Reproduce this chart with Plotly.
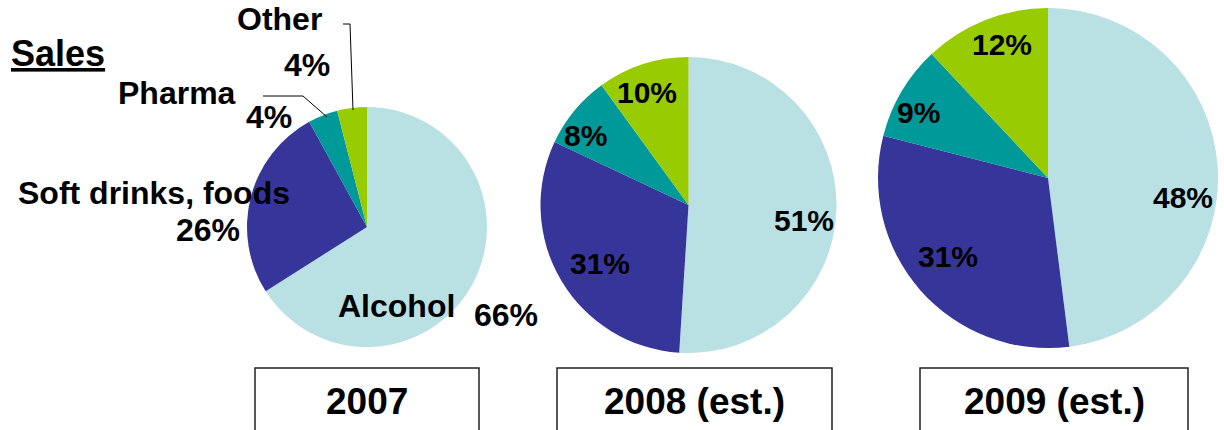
import plotly.graph_objects as go

W, H = 1224, 430

# ---------------- data ----------------
categories = ["Alcohol", "Soft drinks, foods", "Pharma", "Other"]
years = ["2007", "2008 (est.)", "2009 (est.)"]
sales_2007 = [66, 26, 4, 4]
sales_2008 = [51, 31, 8, 10]
sales_2009 = [48, 31, 9, 12]
title_text = "Sales"

# ---------------- styles / layout ----------------
colors = ["#B9E0E3", "#36359A", "#009999", "#99CC00"]
FONT = "Liberation Sans, Arial, sans-serif"

pie_geom = [  # centre x, centre y (px from top), radius (px)
    dict(cx=367, cy=227, r=120),
    dict(cx=688.5, cy=205, r=148),
    dict(cx=1048, cy=178, r=170),
]
series = [sales_2007, sales_2008, sales_2009]

# 2007 pie: name and percent label positions (px)
p1_name_pos = [(396, 306), (154, 193), (177, 93), (279.5, 18.5)]
p1_pct_pos = [(506, 315), (208, 230), (269, 117), (307, 65)]
# 2008 / 2009 pies: percent label positions inside the slices (px)
inside_pct_pos = [
    [(804, 221), (600, 263), (585, 136), (647, 93)],
    [(1183, 197), (948, 256), (918, 112), (1002, 44)],
]

boxes = [(255, 479), (557, 832), (920, 1188)]
box_top = 368
year_text_y = 401


def px(x):
    return x / W


def py(y):
    return 1 - y / H


fig = go.Figure()
annotations = []
shapes = []

for vals, g in zip(series, pie_geom):
    fig.add_trace(go.Pie(
        labels=categories,
        values=vals,
        sort=False,
        direction="clockwise",
        rotation=0,
        textinfo="none",
        hoverinfo="label+percent",
        marker=dict(colors=colors, line=dict(width=0)),
        domain=dict(x=[px(g["cx"] - g["r"]), px(g["cx"] + g["r"])],
                    y=[py(g["cy"] + g["r"]), py(g["cy"] - g["r"])]),
        showlegend=False,
    ))


def label(text, x, y, size):
    annotations.append(dict(text=text, x=px(x), y=py(y), xref="paper", yref="paper",
                            showarrow=False, xanchor="center", yanchor="middle",
                            font=dict(family=FONT, size=size, color="black", weight="bold")))


# 2007 labels
for name, v, (nx, ny), (qx, qy) in zip(categories, sales_2007, p1_name_pos, p1_pct_pos):
    label(name, nx, ny, 32)
    label(f"{v}%", qx, qy, 32)

# 2008 / 2009 labels inside slices
for vals, positions in zip(series[1:], inside_pct_pos):
    for v, (x, y) in zip(vals, positions):
        label(f"{v}%", x, y, 30)

# Title
label(f"<u>{title_text}</u>", 58, 54, 36)


# Leader lines for small slices of 2007
def path(pts):
    return "M " + " L ".join(f"{px(x)},{py(y)}" for x, y in pts)


shapes.append(dict(type="path", xref="paper", yref="paper",
                   path=path([(343, 24), (350, 24), (353, 110)]),
                   line=dict(color="black", width=1)))
shapes.append(dict(type="path", xref="paper", yref="paper",
                   path=path([(263, 96), (303, 96), (327, 117)]),
                   line=dict(color="black", width=1)))

# Year boxes
for (x0, x1), yr in zip(boxes, years):
    shapes.append(dict(type="rect", xref="paper", yref="paper",
                       x0=px(x0), x1=px(x1), y0=py(box_top), y1=py(H + 20),
                       line=dict(color="#222222", width=1.5), fillcolor="rgba(0,0,0,0)"))
    label(yr, (x0 + x1) / 2, year_text_y, 37)

fig.update_layout(
    width=W, height=H,
    margin=dict(l=0, r=0, t=0, b=0),
    paper_bgcolor="white", plot_bgcolor="white",
    showlegend=False,
    annotations=annotations,
    shapes=shapes,
)

fig.write_html("out.html",
               config={"displayModeBar": False},
               post_script="document.body.style.margin='0px';document.body.style.overflow='hidden';")
